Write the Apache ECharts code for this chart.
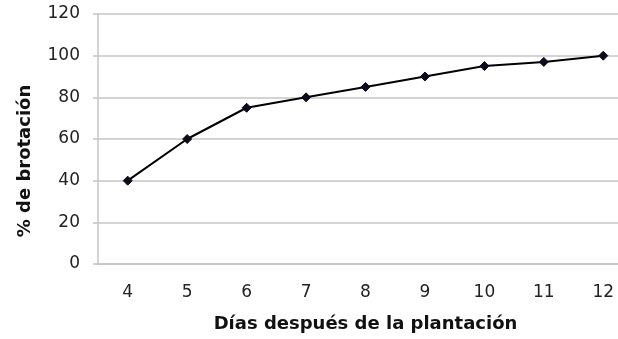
<!DOCTYPE html>
<html>
<head>
<meta charset="utf-8">
<script src="https://cdn.jsdelivr.net/npm/echarts@6/dist/echarts.min.js"></script>
<style>
html,body{margin:0;padding:0;background:#fff;overflow:hidden;width:618px;height:339px;}
#chart{width:633px;height:339px;}
</style>
</head>
<body>
<div id="chart"></div>
<script>
var categories = ['4','5','6','7','8','9','10','11','12'];
var brotacion = [40, 60, 75, 80, 85, 90, 95, 97, 100];
var yTicks = {min: 0, max: 120, interval: 20};
var xName = 'Días después de la plantación';
var yName = '% de brotación';

var chart = echarts.init(document.getElementById('chart'), null, {renderer: 'canvas'});
chart.setOption({
  backgroundColor: '#ffffff',
  animation: false,
  textStyle: {fontFamily: 'DejaVu Sans'},
  grid: {left: 98, top: 14, bottom: 75, right: 0, containLabel: false},
  xAxis: {
    type: 'category',
    data: categories,
    boundaryGap: true,
    name: xName,
    nameLocation: 'middle',
    nameGap: 51,
    nameTextStyle: {fontFamily: 'DejaVu Sans', fontWeight: 'bold', fontSize: 18, color: '#111'},
    axisLine: {show: true, lineStyle: {color: '#c4c4c4', width: 1.5}},
    axisTick: {show: false},
    axisLabel: {fontFamily: 'DejaVu Sans', fontSize: 17, color: '#222', margin: 20},
    splitLine: {show: false}
  },
  yAxis: {
    type: 'value',
    min: yTicks.min,
    max: yTicks.max,
    interval: yTicks.interval,
    name: yName,
    nameLocation: 'middle',
    nameGap: 64,
    nameRotate: 90,
    nameTextStyle: {fontFamily: 'DejaVu Sans', fontWeight: 'bold', fontSize: 18, color: '#111', padding: [0, 44, 0, 0]},
    axisLine: {show: true, lineStyle: {color: '#c4c4c4', width: 1.5}},
    axisTick: {show: true, length: 5, lineStyle: {color: '#c4c4c4', width: 1.5}},
    axisLabel: {fontFamily: 'DejaVu Sans', fontSize: 17, color: '#222', margin: 18},
    splitLine: {show: true, lineStyle: {color: '#d4d4d4', width: 2}}
  },
  series: [{
    type: 'line',
    data: brotacion,
    symbol: 'diamond',
    symbolSize: 9,
    showAllSymbol: true,
    lineStyle: {color: '#000', width: 2},
    itemStyle: {color: '#0b0b1e', borderColor: '#0b0b1e'}
  }]
});
</script>
</body>
</html>
